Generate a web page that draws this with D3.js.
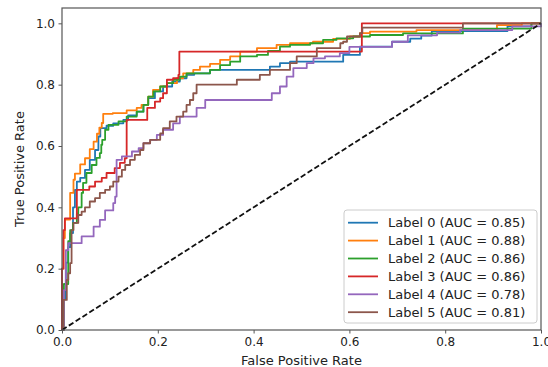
<!DOCTYPE html>
<html><head><meta charset="utf-8">
<script src="https://cdn.jsdelivr.net/npm/d3@7"></script>
<style>body{margin:0;background:#fff}svg{display:block}text{font-family:"DejaVu Sans",sans-serif;fill:#222}</style>
</head><body><svg id="c" width="548" height="367"></svg>
<script>
const labels = ["Label 0","Label 1","Label 2","Label 3","Label 4","Label 5"];
const aucs = [0.85,0.88,0.86,0.86,0.78,0.81];
const colors = ["#1f77b4","#ff7f0e","#2ca02c","#d62728","#9467bd","#8c564b"];
const xTicks = [0,0.2,0.4,0.6,0.8,1.0];
const yTicks = [0,0.2,0.4,0.6,0.8,1.0];
// ROC points [fpr, tpr] (tpr level reached at that fpr)
const roc0 = [[0,0],[0.003,0.1],[0.008,0.22],[0.013,0.27],[0.017,0.316],[0.023,0.40],[0.027,0.457],[0.031,0.484],[0.038,0.496],[0.048,0.522],[0.058,0.555],[0.069,0.587],[0.076,0.631],[0.08,0.658],[0.093,0.666],[0.107,0.674],[0.128,0.685],[0.138,0.70],[0.156,0.712],[0.17,0.734],[0.18,0.756],[0.194,0.778],[0.211,0.794],[0.23,0.81],[0.246,0.821],[0.26,0.832],[0.276,0.837],[0.309,0.848],[0.434,0.859],[0.455,0.87],[0.476,0.875],[0.587,0.897],[0.622,0.924],[0.689,0.94],[0.727,0.95],[0.75,0.96],[0.772,0.975],[0.93,0.99],[0.98,1],[1,1]];
const roc1 = [[0,0],[0,0.2],[0.003,0.30],[0.006,0.36],[0.017,0.447],[0.024,0.49],[0.027,0.51],[0.038,0.54],[0.048,0.56],[0.058,0.59],[0.066,0.614],[0.073,0.64],[0.078,0.66],[0.083,0.675],[0.086,0.705],[0.106,0.707],[0.135,0.716],[0.156,0.724],[0.166,0.734],[0.18,0.761],[0.19,0.783],[0.205,0.794],[0.219,0.805],[0.24,0.821],[0.253,0.837],[0.274,0.848],[0.288,0.859],[0.309,0.868],[0.33,0.881],[0.351,0.892],[0.372,0.908],[0.407,0.919],[0.448,0.93],[0.476,0.935],[0.524,0.94],[0.566,0.949],[0.601,0.957],[0.622,0.968],[0.643,0.973],[0.74,0.978],[0.908,0.994],[0.96,1],[1,1]];
const roc2 = [[0,0],[0.004,0.15],[0.013,0.29],[0.017,0.326],[0.023,0.349],[0.031,0.38],[0.034,0.40],[0.041,0.447],[0.044,0.48],[0.051,0.512],[0.062,0.538],[0.072,0.561],[0.079,0.577],[0.082,0.604],[0.084,0.62],[0.09,0.653],[0.097,0.669],[0.118,0.68],[0.135,0.696],[0.156,0.712],[0.17,0.734],[0.18,0.761],[0.191,0.778],[0.205,0.794],[0.219,0.805],[0.232,0.816],[0.246,0.826],[0.26,0.837],[0.309,0.848],[0.33,0.864],[0.351,0.875],[0.372,0.892],[0.407,0.897],[0.43,0.91],[0.455,0.924],[0.476,0.93],[0.518,0.935],[0.545,0.946],[0.573,0.951],[0.608,0.957],[0.643,0.962],[0.712,0.967],[0.837,0.983],[0.98,1],[1,1]];
const roc3 = [[0,0],[0,0.2],[0.003,0.326],[0.006,0.364],[0.031,0.457],[0.057,0.468],[0.069,0.484],[0.083,0.496],[0.093,0.512],[0.11,0.528],[0.121,0.545],[0.131,0.56],[0.135,0.685],[0.178,0.724],[0.194,0.745],[0.205,0.756],[0.211,0.772],[0.219,0.816],[0.232,0.821],[0.243,0.832],[0.245,0.908],[0.626,1],[1,1]];
const roc4 = [[0,0],[0.004,0.13],[0.008,0.26],[0.013,0.283],[0.041,0.305],[0.066,0.337],[0.079,0.359],[0.09,0.39],[0.107,0.414],[0.111,0.435],[0.114,0.555],[0.125,0.566],[0.146,0.582],[0.16,0.593],[0.17,0.609],[0.184,0.62],[0.198,0.636],[0.211,0.653],[0.232,0.674],[0.246,0.696],[0.281,0.724],[0.299,0.75],[0.438,0.772],[0.455,0.794],[0.469,0.826],[0.483,0.854],[0.511,0.87],[0.525,0.886],[0.549,0.892],[0.58,0.903],[0.6,0.923],[0.689,0.94],[0.722,0.961],[0.783,0.97],[0.831,0.978],[0.94,0.99],[1,1]];
const roc5 = [[0,0],[0.003,0.098],[0.01,0.163],[0.013,0.185],[0.017,0.218],[0.02,0.326],[0.024,0.349],[0.034,0.375],[0.041,0.386],[0.048,0.40],[0.058,0.419],[0.069,0.43],[0.079,0.447],[0.09,0.457],[0.1,0.468],[0.107,0.484],[0.118,0.50],[0.125,0.522],[0.132,0.538],[0.142,0.555],[0.152,0.571],[0.163,0.587],[0.17,0.609],[0.184,0.62],[0.205,0.641],[0.211,0.658],[0.225,0.68],[0.239,0.696],[0.253,0.712],[0.26,0.734],[0.267,0.75],[0.274,0.772],[0.281,0.80],[0.365,0.816],[0.413,0.832],[0.434,0.848],[0.476,0.87],[0.49,0.892],[0.532,0.919],[0.581,0.935],[0.587,0.94],[0.595,0.957],[0.622,0.968],[0.627,0.986],[0.837,1],[1,1]];
const chanceLine = [[0,0],[1,1]];
const rocs = [roc0,roc1,roc2,roc3,roc4,roc5];

const svg = d3.select("#c");
const L=62, R=541, T=8, B=330;
const x = d3.scaleLinear().domain([0,1]).range([L,R]);
const y = d3.scaleLinear().domain([0,1.05]).range([B,T]);

const line = d3.line().x(d=>x(d[0])).y(d=>y(d[1])).curve(d3.curveStepAfter);
const g = svg.append("g");
rocs.forEach((r,i)=>{
  g.append("path").attr("d",line(r)).attr("fill","none").attr("stroke",colors[i])
   .attr("stroke-width",1.8).attr("stroke-linejoin","round");
});
svg.append("path").attr("d",d3.line().x(d=>x(d[0])).y(d=>y(d[1]))(chanceLine))
  .attr("fill","none").attr("stroke","#111").attr("stroke-width",1.8).attr("stroke-dasharray","5.5,2.6");

// frame
svg.append("rect").attr("x",L).attr("y",T).attr("width",R-L).attr("height",B-T)
  .attr("fill","none").attr("stroke","#555").attr("stroke-width",1.2);

const xa = svg.append("g").attr("transform",`translate(0,${B})`)
  .call(d3.axisBottom(x).tickValues(xTicks).tickFormat(d3.format(".1f")).tickSize(3.5).tickPadding(3.5));
const ya = svg.append("g").attr("transform",`translate(${L},0)`)
  .call(d3.axisLeft(y).tickValues(yTicks).tickFormat(d3.format(".1f")).tickSize(3.5).tickPadding(3.5));
[xa,ya].forEach(a=>{
  a.select(".domain").remove();
  a.selectAll(".tick line").attr("stroke","#555");
  a.selectAll(".tick text").attr("font-size","12px").attr("font-family","DejaVu Sans").attr("fill","#333");
});

svg.append("text").attr("x",(L+R)/2).attr("y",364.5).attr("text-anchor","middle")
  .attr("font-size","13px").attr("fill","#333").text("False Positive Rate");
svg.append("text").attr("transform",`translate(23.5,${(T+B)/2}) rotate(-90)`).attr("text-anchor","middle")
  .attr("font-size","13px").attr("fill","#333").text("True Positive Rate");

// legend
const lg = svg.append("g");
lg.append("rect").attr("x",344).attr("y",210).attr("width",193).attr("height",113).attr("rx",3)
  .attr("fill","#fff").attr("fill-opacity",0.8).attr("stroke","#ccc");
labels.forEach((lab,i)=>{
  const yy = 222.7 + i*17.9;
  lg.append("line").attr("x1",348).attr("x2",378).attr("y1",yy).attr("y2",yy).attr("stroke",colors[i]).attr("stroke-width",1.8);
  lg.append("text").attr("x",388).attr("y",yy+4.6).attr("font-size","13px").attr("fill","#333")
    .text(`${lab} (AUC = ${aucs[i].toFixed(2)})`);
});
</script></body></html>
